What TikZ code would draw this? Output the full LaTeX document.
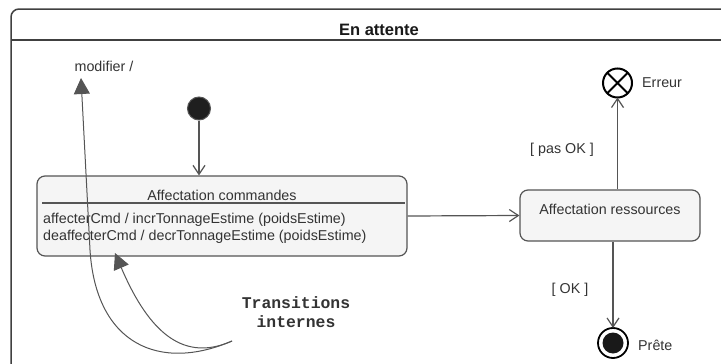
\documentclass[tikz,border=0pt]{standalone}
\usepackage{fontspec}
\setmainfont{Liberation Sans}
\setmonofont{Liberation Mono}
\usetikzlibrary{arrows.meta,calc}
\definecolor{ink}{HTML}{333333}
\definecolor{wire}{HTML}{555555}
\definecolor{boxfill}{HTML}{F5F5F5}
\begin{document}
\begin{tikzpicture}[x=1pt,y=-1pt,
  lbl/.style={font=\fontsize{14.3}{17}\selectfont, text=ink, inner sep=0pt},
  statebox/.style={draw=wire, fill=boxfill, rounded corners=8pt, line width=1.2pt, inner sep=0pt},
  flow/.style={draw=wire, line width=1.2pt, -{Straight Barb[length=9pt,width=12pt]}},
  internal/.style={draw=wire, line width=1pt, -{Triangle[length=16pt,width=16pt,fill=wire]}}]
\useasboundingbox (0,0) rectangle (721,364);

% composite state frame
\begin{scope}
  \clip (0,0) rectangle (721,364);
  \draw[draw=black!75, line width=1.5pt, rounded corners=8pt] (11,420) -- (11,9) -- (747,9) -- (747,420) -- cycle;
  \draw[draw=black!75, line width=1.5pt] (11,40) -- (747,40);
\end{scope}
\node[font=\bfseries\fontsize{16.5}{19}\selectfont, text=black!90, inner sep=0pt, anchor=base] (title) at (379,35) {En attente};

% initial pseudostate
\node[circle, fill=black!88, draw=wire, line width=1pt, minimum size=23pt, inner sep=0pt] (init) at (199,108.5) {};

% state: Affectation commandes
\node[statebox, minimum width=370pt, minimum height=80pt] (b1) at (222,216) {};
\node[lbl, anchor=base] (b1t) at (222,200) {Affectation commandes};
\draw[draw=wire, line width=1.2pt] ($(b1.west)+(6,-13)$) -- ($(b1.east)+(-3,-13)$);
\node[lbl, anchor=base west] (b1a) at (43,223) {affecterCmd / incrTonnageEstime (poidsEstime)};
\node[lbl, anchor=base west] (b1b) at (43,240) {deaffecterCmd / decrTonnageEstime (poidsEstime)};

% state: Affectation ressources
\node[statebox, minimum width=180pt, minimum height=51pt] (b2) at (610,215.5) {};
\node[lbl, anchor=base] (b2t) at (610,214) {Affectation ressources};

% final states
\node[circle, draw=black, line width=2pt, minimum size=29pt, inner sep=0pt, outer sep=0pt] (err) at (617.5,83) {};
\draw[black, line width=2pt] (err.north east) -- (err.south west) (err.north west) -- (err.south east);
\node[lbl, anchor=base west] (errl) at (642,87) {Erreur};

\node[circle, draw=black, line width=1.8pt, minimum size=30pt, inner sep=0pt, outer sep=0pt] (end) at (613,343) {};
\fill[black!90] (end.center) circle[radius=10.5pt];
\node[lbl, anchor=base west] (endl) at (638,350) {Prête};

% transition labels
\node[lbl, anchor=base] (pas) at (562,153) {[ pas OK ]};
\node[lbl, anchor=base] (ok) at (570,293) {[ OK ]};
\node[lbl, anchor=base] (mod) at (104,71) {modifier /};
\coordinate (modtip) at (81,78);

% note on internal transitions
\node[font=\ttfamily\bfseries\fontsize{16.4}{19}\selectfont, text=ink, align=center, inner sep=0pt, anchor=base] (tr) at (296,327) {Transitions\\internes};
\coordinate (trs) at (232,341);

% transitions
\draw[flow] (init) -- (init |- b1.north);
\draw[flow] (b1.east) -- (b2.west);
\draw[flow] (err.south |- b2.north) -- (err.south);
\draw[flow] (end.north |- b2.south) -- (end.north);

% pointers from the note
\draw[internal] (trs) .. controls (160,372) and (96,345) .. (90,250) -- (modtip);
\draw[internal] (trs) .. controls (185,362) and (150,335) .. (115,253);
\end{tikzpicture}
\end{document}
